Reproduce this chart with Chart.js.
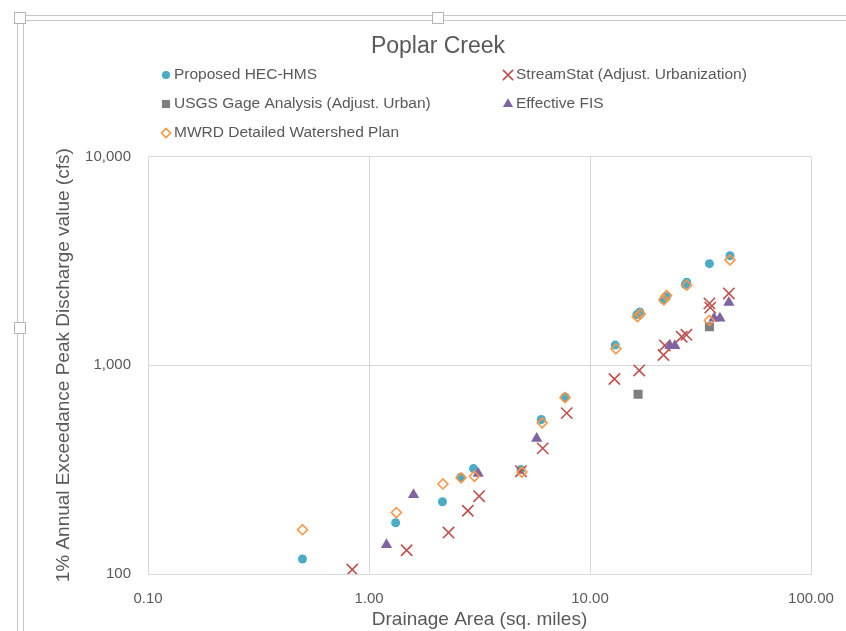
<!DOCTYPE html>
<html>
<head>
<meta charset="utf-8">
<title>Poplar Creek</title>
<script src="https://cdn.jsdelivr.net/npm/chart.js@4.4.1/dist/chart.umd.min.js"></script>
<style>
  html, body { margin: 0; padding: 0; background: #fff; }
  #wrap { position: relative; width: 846px; height: 631px; overflow: hidden; }
  .ln { position: absolute; background: #c8c8c8; }
  .hd { position: absolute; width: 10px; height: 10px; border: 1px solid #b4b4b4; background: #fff; }
</style>
</head>
<body>
<div id="wrap">
  <canvas id="poplarChart" width="846" height="631"></canvas>
  <div class="ln" style="left:17px; top:15px; width:829px; height:1px"></div>
  <div class="ln" style="left:23px; top:20px; width:823px; height:1px"></div>
  <div class="ln" style="left:17px; top:15px; width:1px; height:616px"></div>
  <div class="ln" style="left:23px; top:20px; width:1px; height:611px"></div>
  <div class="hd" style="left:14px; top:12px"></div>
  <div class="hd" style="left:432px; top:12px"></div>
  <div class="hd" style="left:14px; top:322px"></div>
</div>
<script>
// drainage area (sq. miles) / 1% peak discharge (cfs)
const hecArea = [0.50, 1.32, 2.15, 2.60, 2.97, 4.87, 6.02, 7.71, 13.0, 16.3, 16.8, 21.5, 22.2, 27.0, 27.4, 34.7, 43.0];
const hecFlow = [118, 176, 222, 291, 320, 317, 550, 705, 1250, 1750, 1800, 2060, 2130, 2440, 2500, 3070, 3350];

const streamArea = [0.84, 1.48, 2.29, 2.80, 3.15, 4.87, 6.11, 7.85, 12.9, 16.7, 21.5, 21.8, 26.0, 27.3, 34.7, 35.0, 42.5];
const streamFlow = [105, 130, 158, 201, 236, 311, 400, 590, 860, 945, 1120, 1245, 1370, 1400, 1980, 1890, 2210];

const usgsArea = [16.5, 34.7];
const usgsFlow = [726, 1530];

const fisArea = [1.20, 1.59, 3.12, 5.74, 23.0, 24.2, 36.4, 38.7, 42.5];
const fisFlow = [138, 240, 303, 446, 1240, 1240, 1680, 1680, 2000];

const mwrdArea = [0.50, 1.33, 2.16, 2.61, 3.00, 4.92, 6.08, 7.71, 13.1, 16.4, 16.9, 21.6, 22.2, 27.4, 34.7, 43.0];
const mwrdFlow = [163, 197, 270, 289, 294, 308, 530, 700, 1200, 1710, 1760, 2060, 2160, 2420, 1640, 3200];

const xTicks = [0.1, 1, 10, 100];
const xTickLabels = ['0.10', '1.00', '10.00', '100.00'];
const yTicks = [100, 1000, 10000];
const yTickLabels = ['100', '1,000', '10,000'];

const seriesNames = ['Proposed HEC-HMS', 'StreamStat (Adjust. Urbanization)', 'USGS Gage Analysis (Adjust. Urban)', 'Effective FIS', 'MWRD Detailed Watershed Plan'];

function pts(xs, ys) {
  return xs.map((x, i) => ({ x: x, y: ys[i] }));
}

Chart.defaults.font.family = '"Liberation Sans", Arial, sans-serif';
Chart.defaults.color = '#595959';

// legend laid out in two fixed columns like the Excel one
const legendCols = [166, 508];
const legendRows = [75, 104, 133];

const columnLegend = {
  id: 'columnLegend',
  afterLayout(chart) {
    const tb = chart.titleBlock;
    if (tb) {
      const w = tb.right - tb.left;
      tb.left = 438 - w / 2;
      tb.right = 438 + w / 2;
    }
  },
  afterDraw(chart) {
    const ctx = chart.ctx;
    chart.data.datasets.forEach((ds, i) => {
      const x = legendCols[i % 2];
      const y = legendRows[Math.floor(i / 2)];
      ctx.save();
      ctx.fillStyle = ds.backgroundColor;
      ctx.strokeStyle = ds.borderColor;
      ctx.lineWidth = ds.borderWidth;
      Chart.helpers.drawPoint(ctx, {
        pointStyle: ds.pointStyle, rotation: 0,
        radius: ds.pointRadius * 0.9, borderWidth: ds.borderWidth
      }, x, y);
      ctx.fillStyle = '#595959';
      ctx.font = '15.5px "Liberation Sans", Arial, sans-serif';
      ctx.textBaseline = 'middle';
      ctx.fillText(ds.label, x + 8, y);
      ctx.restore();
    });
  }
};

const ctx = document.getElementById('poplarChart').getContext('2d');

new Chart(ctx, {
  type: 'scatter',
  data: {
    datasets: [
      { label: seriesNames[0], data: pts(hecArea, hecFlow), pointStyle: 'circle', pointRadius: 4.5,
        backgroundColor: '#4bacc6', borderColor: '#4bacc6', borderWidth: 0, order: 5 },
      { label: seriesNames[1], data: pts(streamArea, streamFlow), pointStyle: 'crossRot', pointRadius: 8,
        backgroundColor: '#c0504d', borderColor: '#c0504d', borderWidth: 1.6, order: 4 },
      { label: seriesNames[2], data: pts(usgsArea, usgsFlow), pointStyle: 'rect', pointRadius: 6.4,
        backgroundColor: '#7f7f7f', borderColor: '#7f7f7f', borderWidth: 0, order: 3 },
      { label: seriesNames[3], data: pts(fisArea, fisFlow), pointStyle: 'triangle', pointRadius: 6.5,
        backgroundColor: '#8064a2', borderColor: '#8064a2', borderWidth: 0, order: 2 },
      { label: seriesNames[4], data: pts(mwrdArea, mwrdFlow), pointStyle: 'rectRot', pointRadius: 5,
        backgroundColor: 'rgba(0,0,0,0)', borderColor: '#f79646', borderWidth: 1.6, order: 1 }
    ]
  },
  options: {
    responsive: false,
    animation: false,
    layout: { padding: { left: 20, right: 35, top: 0, bottom: 0 } },
    plugins: {
      legend: { display: false },
      tooltip: { enabled: false },
      title: {
        display: true,
        text: 'Poplar Creek',
        color: '#595959',
        font: { size: 23, weight: 'normal' },
        padding: { top: 33, bottom: 96 }
      }
    },
    scales: {
      x: {
        type: 'logarithmic',
        min: 0.1,
        max: 100,
        afterBuildTicks: s => { s.ticks = xTicks.map(v => ({ value: v })); },
        afterFit: s => { s.height = 57; s.paddingLeft = 0; s.paddingRight = 0; },
        ticks: {
          callback: v => xTickLabels[xTicks.indexOf(v)],
          font: { size: 15 },
          color: '#595959',
          padding: 16,
          maxRotation: 0,
          autoSkip: false
        },
        grid: { color: '#d9d9d9', drawTicks: false },
        border: { color: '#d9d9d9' },
        title: {
          display: true,
          text: 'Drainage Area (sq. miles)',
          color: '#595959',
          font: { size: 19 },
          padding: { top: 0, bottom: 0 }
        }
      },
      y: {
        type: 'logarithmic',
        min: 100,
        max: 10000,
        afterBuildTicks: s => { s.ticks = yTicks.map(v => ({ value: v })); },
        afterFit: s => { s.width = 128; },
        ticks: {
          callback: v => yTickLabels[yTicks.indexOf(v)],
          font: { size: 15 },
          color: '#595959',
          padding: 17,
          autoSkip: false
        },
        grid: { color: '#d9d9d9', drawTicks: false },
        border: { color: '#d9d9d9' },
        title: {
          display: true,
          text: '1% Annual Exceedance Peak Discharge value (cfs)',
          color: '#595959',
          font: { size: 19 },
          padding: { top: 32, bottom: 0 }
        }
      }
    }
  },
  plugins: [columnLegend]
});
</script>
</body>
</html>
